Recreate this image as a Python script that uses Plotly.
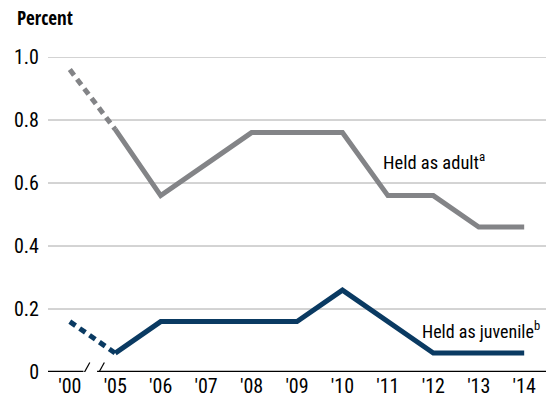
import plotly.graph_objects as go

years = ["'00", "'05", "'06", "'07", "'08", "'09", "'10", "'11", "'12", "'13", "'14"]
adult = [0.96, 0.77, 0.56, 0.66, 0.76, 0.76, 0.76, 0.56, 0.56, 0.46, 0.46]
juvenile = [0.16, 0.06, 0.16, 0.16, 0.16, 0.16, 0.26, 0.16, 0.06, 0.06, 0.06]
y_ticks = [0, 0.2, 0.4, 0.6, 0.8, 1.0]
y_labels = ["0", "0.2", "0.4", "0.6", "0.8", "1.0"]

GRAY = "#838487"
NAVY = "#0a3a62"
FONT = "Roboto Condensed, DejaVu Sans Condensed, sans-serif"
BOLD = "Open Sans Condensed, Roboto Condensed, sans-serif"

xi = list(range(len(years)))

fig = go.Figure()
for vals, col in [(adult, GRAY), (juvenile, NAVY)]:
    fig.add_trace(go.Scatter(x=xi[:2], y=vals[:2], mode="lines",
                             line=dict(color=col, width=5, dash="7px,5px"),
                             hoverinfo="skip", showlegend=False))
    fig.add_trace(go.Scatter(x=xi[1:], y=vals[1:], mode="lines",
                             line=dict(color=col, width=5),
                             hoverinfo="skip", showlegend=False))

shapes = []
for v in y_ticks[1:]:
    shapes.append(dict(type="line", xref="paper", yref="y", x0=0, x1=1, y0=v, y1=v,
                       line=dict(color="#a8a8a8", width=1), layer="below"))
# baseline with axis break
shapes.append(dict(type="line", xref="paper", yref="y", x0=0, x1=1, y0=0, y1=0,
                   line=dict(color="black", width=2.5), layer="below"))
shapes.append(dict(type="rect", xref="x", yref="y", x0=0.3, x1=0.6, y0=-0.012, y1=0.012,
                   fillcolor="white", line=dict(width=0), layer="below"))
for x0, x1 in ((0.24, 0.44), (0.56, 0.76)):
    shapes.append(dict(type="line", xref="x", yref="y", x0=x0, x1=x1,
                       y0=-0.022, y1=0.03, line=dict(color="black", width=1.2)))

fig.update_layout(
    width=548, height=400,
    margin=dict(l=48, r=2, t=57, b=28),
    paper_bgcolor="white", plot_bgcolor="white",
    font=dict(family=FONT, size=20, color="black"),
    shapes=shapes,
    xaxis=dict(range=[-0.48, 10.48], tickmode="array", tickvals=xi, ticktext=years,
               showgrid=False, zeroline=False, showline=False, ticks="",
               tickfont=dict(size=20)),
    yaxis=dict(range=[0, 1.0], tickmode="array", tickvals=y_ticks, ticktext=y_labels,
               showgrid=False, zeroline=False, showline=False, ticks="",
               ticklabelstandoff=8, tickfont=dict(size=20)),
    annotations=[
        dict(text="<b>Percent</b>", xref="paper", yref="paper", x=-33/498, y=1,
             xanchor="left", yanchor="bottom", yshift=24, showarrow=False,
             font=dict(size=19, family=BOLD)),
        dict(text="Held as adult<sup>a</sup>", xref="x", yref="y", x=6.85, y=0.667,
             xanchor="left", yanchor="middle", showarrow=False, font=dict(size=18.5)),
        dict(text="Held as juvenile<sup>b</sup>", xref="x", yref="y", x=7.71, y=0.133,
             xanchor="left", yanchor="middle", showarrow=False, font=dict(size=18)),
    ],
)

fig.write_html("out.html", config={"displayModeBar": False},
               post_script="document.body.style.margin='0';")
